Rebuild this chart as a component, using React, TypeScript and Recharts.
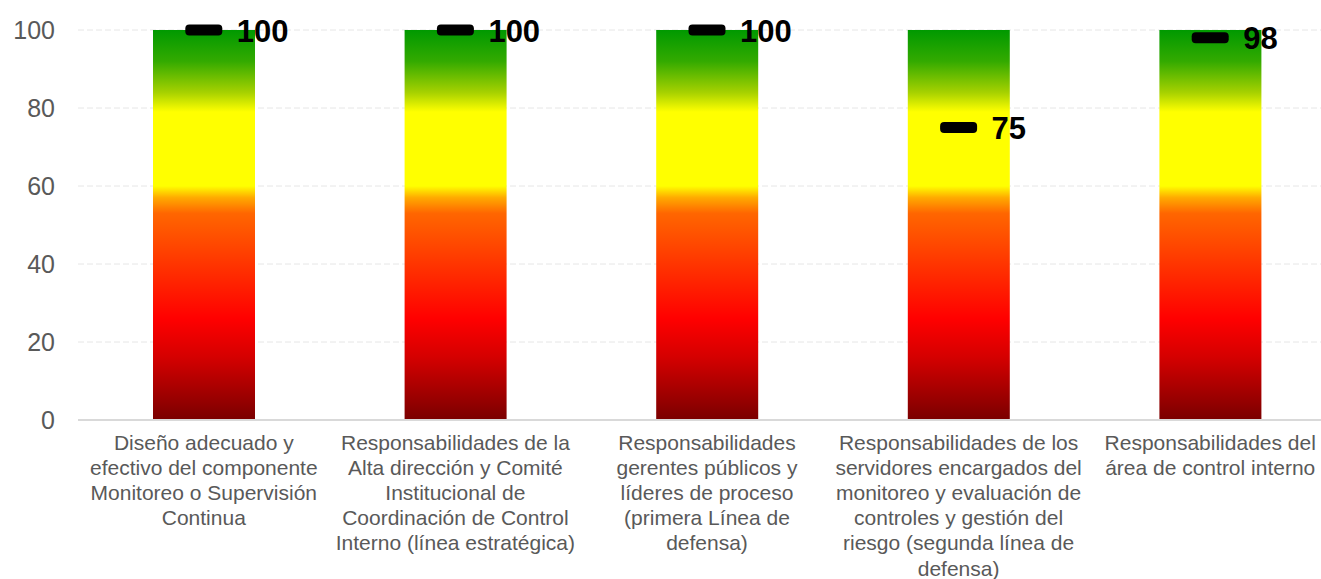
import { Bar, CartesianGrid, ComposedChart, Line, XAxis, YAxis } from "recharts";

const categories = [
  "Diseño adecuado y\nefectivo del componente\nMonitoreo o Supervisión\nContinua",
  "Responsabilidades de la\nAlta dirección y Comité\nInstitucional de\nCoordinación de Control\nInterno (línea estratégica)",
  "Responsabilidades\ngerentes públicos y\nlíderes de proceso\n(primera Línea de\ndefensa)",
  "Responsabilidades de los\nservidores encargados del\nmonitoreo y evaluación de\ncontroles y gestión del\nriesgo (segunda línea de\ndefensa)",
  "Responsabilidades del\nárea de control interno",
];
const scores = [100, 100, 100, 75, 98];
const scaleMax = [100, 100, 100, 100, 100];
const yTicks = [0, 20, 40, 60, 80, 100];

const data = categories.map((name, i) => ({
  name,
  max: scaleMax[i],
  score: scores[i],
}));

const FONT = '"Liberation Sans", Arial, sans-serif';

function CategoryTick(props: any) {
  const { x, y, payload } = props;
  const lines = String(payload.value).split("\n");
  return (
    <g>
      {lines.map((line: string, i: number) => (
        <text
          key={i}
          x={x}
          y={y + 14 + i * 25.2}
          textAnchor="middle"
          dominantBaseline="central"
          fontSize={21}
          fontFamily={FONT}
          fill="#595959"
        >
          {line}
        </text>
      ))}
    </g>
  );
}

function ScoreMarker(props: any) {
  const { cx, cy, payload } = props;
  if (cx == null || cy == null) return null;
  return (
    <g>
      <rect x={cx - 18.5} y={cy - 5.5} width={37} height={11} rx={4} fill="#000" />
      <text
        x={cx + 33}
        y={cy + 1}
        dominantBaseline="central"
        fontSize={31}
        fontWeight="bold"
        fontFamily={FONT}
        fill="#000"
      >
        {payload.score}
      </text>
    </g>
  );
}

export default function App() {
  return (
    <div
      style={{
        position: "absolute",
        left: 0,
        top: 0,
        width: 1321,
        height: 579,
        overflow: "hidden",
        background: "#fff",
      }}
    >
      <ComposedChart
        width={1336}
        height={579}
        data={data}
        margin={{ top: 30, right: 0, bottom: 0, left: 0 }}
        barSize={102}
      >
        <defs>
          <linearGradient id="scale" x1="0" y1="0" x2="0" y2="1">
            <stop offset="0%" stopColor="#009900" />
            <stop offset="8%" stopColor="#33aa00" />
            <stop offset="16%" stopColor="#a6d100" />
            <stop offset="21%" stopColor="#ffff00" />
            <stop offset="40%" stopColor="#ffff00" />
            <stop offset="43%" stopColor="#ffaa00" />
            <stop offset="47%" stopColor="#ff6600" />
            <stop offset="74%" stopColor="#ff0000" />
            <stop offset="84%" stopColor="#d40000" />
            <stop offset="100%" stopColor="#7a0000" />
          </linearGradient>
        </defs>
        <CartesianGrid vertical={false} stroke="#e6e6e6" strokeDasharray="6 3" />
        <XAxis
          dataKey="name"
          height={159}
          tickLine={false}
          axisLine={{ stroke: "#d9d9d9", strokeWidth: 2 }}
          tick={<CategoryTick />}
          interval={0}
        />
        <YAxis
          width={78}
          domain={[0, 100]}
          ticks={yTicks}
          axisLine={false}
          tickLine={false}
          tickSize={0}
          tickMargin={23}
          tick={{ fontSize: 25, fill: "#595959", fontFamily: FONT }}
        />
        <Bar dataKey="max" fill="url(#scale)" isAnimationActive={false} />
        <Line
          dataKey="score"
          stroke="none"
          dot={<ScoreMarker />}
          activeDot={false}
          isAnimationActive={false}
        />
      </ComposedChart>
    </div>
  );
}
